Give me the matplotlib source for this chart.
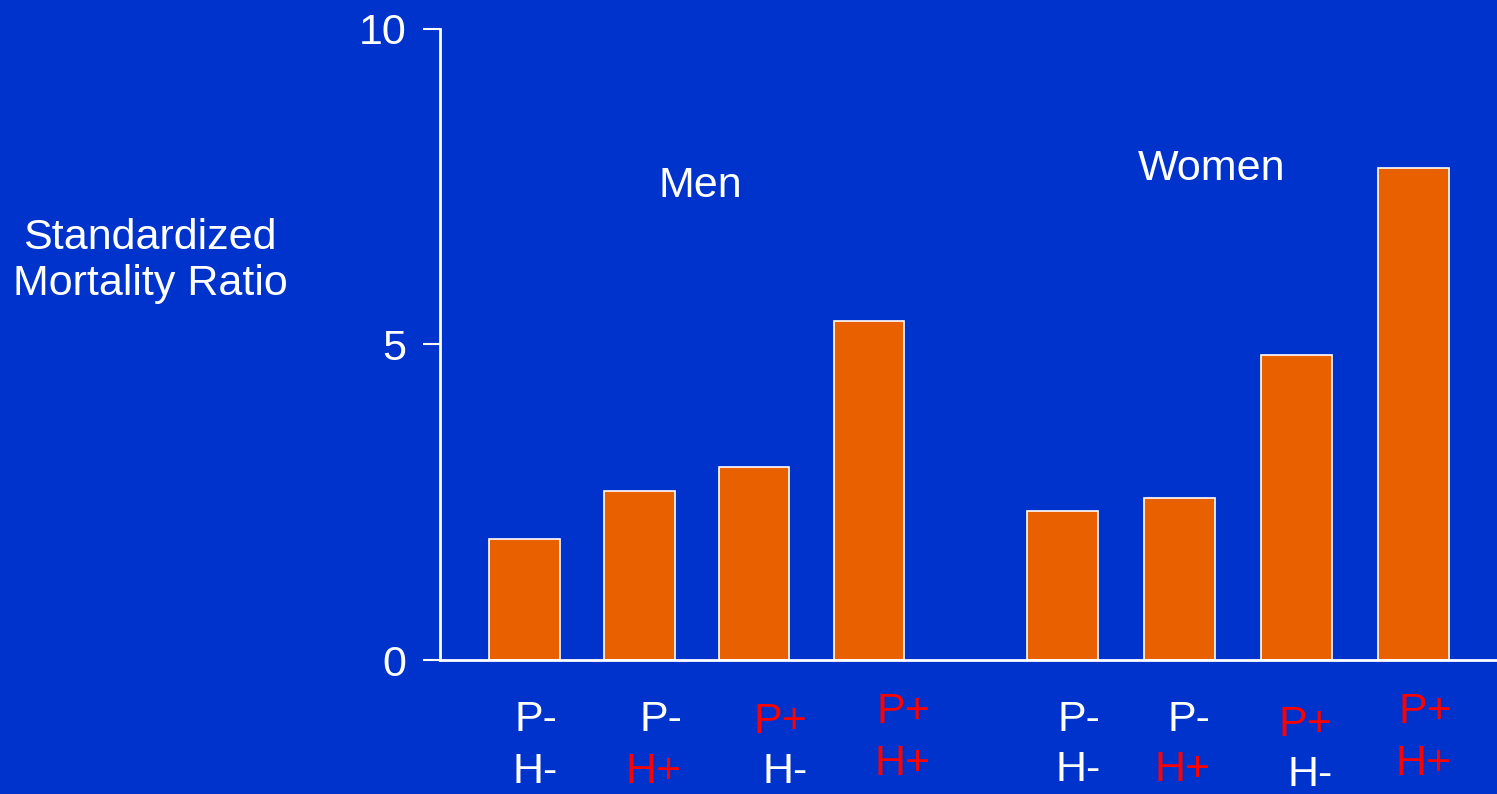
import matplotlib.pyplot as plt
import matplotlib.transforms as mtransforms

plt.rcParams['font.family'] = ['Liberation Sans', 'DejaVu Sans']

groups = ['Men', 'Women']
smr_men = [1.92, 2.68, 3.06, 5.37]
smr_women = [2.36, 2.57, 4.83, 7.80]
p_labels = ['P-', 'P-', 'P+', 'P+']
h_labels = ['H-', 'H+', 'H-', 'H+']

bg = '#0033cc'
orange = '#e86000'
red = '#ff0000'
fs = 31

fig = plt.figure(figsize=(14.97, 7.94), dpi=100, facecolor=bg)
ax = fig.add_axes([440 / 1497, 134 / 794, 1057 / 1497, 631 / 794])
ax.set_facecolor(bg)

group_offset = 4.66
xs_men = [i * 0.995 for i in range(4)]
xs_women = [group_offset + i * 1.013 for i in range(4)]
ax.bar(xs_men, smr_men, width=0.61, color=orange, edgecolor='white', linewidth=1.2, zorder=2)
ax.bar(xs_women, smr_women, width=0.61, color=orange, edgecolor='white', linewidth=1.2, zorder=2)

ax.set_xlim(-0.73, 8.42)
ax.set_ylim(0, 10)
ax.set_yticks([0, 5, 10])
ax.set_xticks([])
for s in ['top', 'right']:
    ax.spines[s].set_visible(False)
for s in ['left', 'bottom']:
    ax.spines[s].set_color('white')
    ax.spines[s].set_linewidth(2)
ax.tick_params(axis='y', colors='white', length=12, width=1.5, pad=12, labelsize=fs)

# two-line P/H labels under each bar, red where the factor is present
trans = mtransforms.blended_transform_factory(ax.transData, fig.transFigure)
label_shift = [0.29, 0.37, 0.46, 0.53, 0.33, 0.27, 0.31, 0.33]
line_y = [(720, 772), (720, 772), (722, 772), (712, 764),
          (720, 770), (720, 770), (725, 775), (712, 764)]
for k, x in enumerate(xs_men + xs_women):
    p = p_labels[k % 4]
    h = h_labels[k % 4]
    y1, y2 = line_y[k]
    ax.text(x + label_shift[k], 1 - y1 / 794, p, transform=trans, ha='right', va='center',
            fontsize=fs, color=red if '+' in p else 'white')
    ax.text(x + label_shift[k], 1 - y2 / 794, h, transform=trans, ha='right', va='center',
            fontsize=fs, color=red if '+' in h else 'white')

fig.text(700 / 1497, 1 - 186 / 794, groups[0], ha='center', va='center', fontsize=fs, color='white')
fig.text(1212 / 1497, 1 - 169 / 794, groups[1], ha='center', va='center', fontsize=fs, color='white')
fig.text(150 / 1497, 1 - 261 / 794, 'Standardized\nMortality Ratio', ha='center', va='center',
         fontsize=fs, color='white', linespacing=1.2)

fig.savefig('out.png', dpi=100, facecolor=bg)
